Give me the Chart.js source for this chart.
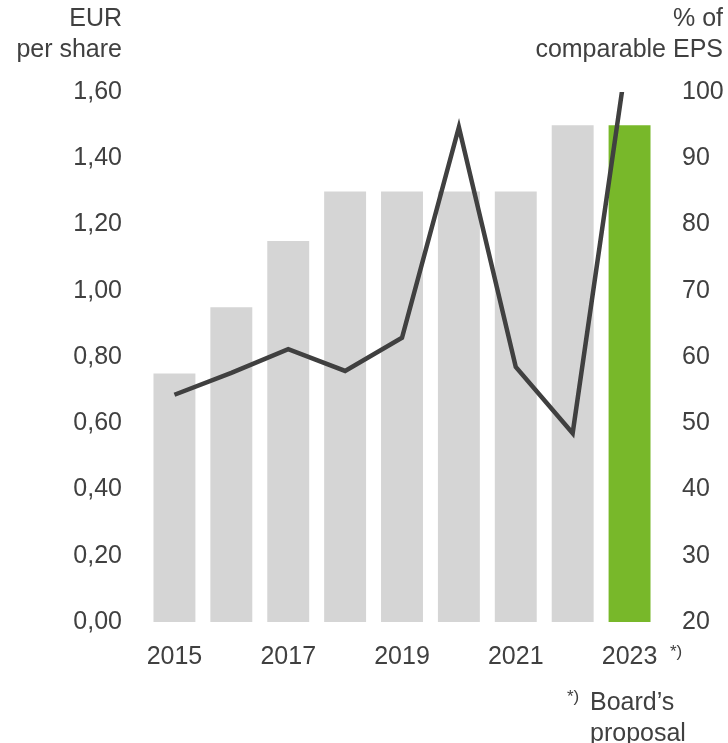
<!DOCTYPE html>
<html>
<head>
<meta charset="utf-8">
<script src="https://cdn.jsdelivr.net/npm/chart.js@4/dist/chart.umd.min.js"></script>
<style>
  body { margin: 0; background: #fff; }
  #wrap { position: relative; width: 728px; height: 743px; overflow: hidden;
          font-family: "Liberation Sans", Arial, sans-serif; color: #404040; }
  canvas { position: absolute; left: 0; top: 0; }
  .txt { position: absolute; font-size: 25px; line-height: 31px; white-space: nowrap; }
  .sup { position: absolute; font-size: 17px; line-height: 17px; }
</style>
</head>
<body>
<div id="wrap">
  <canvas id="chart" width="728" height="743"></canvas>
  <div class="txt" style="right:606px; top:2px; text-align:right;">EUR<br>per share</div>
  <div class="txt" style="right:5px; top:2px; text-align:right;">% of<br>comparable EPS</div>
  <div class="sup" style="left:670px; top:643px;">*)</div>
  <div class="sup" style="left:567px; top:688px;">*)</div>
  <div class="txt" style="left:590px; top:686px;">Board’s<br>proposal</div>
</div>

<script>
/* ===============================
   Data
================================ */
const years = ["2015", "2016", "2017", "2018", "2019", "2020", "2021", "2022", "2023"];
const dividend = [0.75, 0.95, 1.15, 1.30, 1.30, 1.30, 1.30, 1.50, 1.50];   // EUR per share
const payout = [54.3, 57.6, 61.2, 57.9, 62.9, 94.7, 58.5, 48.5, 108];       // % of comparable EPS
const leftTicks = [0, 0.2, 0.4, 0.6, 0.8, 1.0, 1.2, 1.4, 1.6];
const rightTicks = [20, 30, 40, 50, 60, 70, 80, 90, 100];

/* ===============================
   Chart
================================ */
const grey = "#d5d5d5";
const green = "#78b82a";
const ink = "#404040";
const font = { family: "'Liberation Sans', Arial, sans-serif", size: 25 };

new Chart(document.getElementById("chart"), {
  type: "bar",
  data: {
    labels: years,
    datasets: [
      {
        type: "line",
        data: payout,
        yAxisID: "y1",
        borderColor: ink,
        borderWidth: 4.5,
        pointRadius: 0,
        tension: 0,
        order: 0
      },
      {
        type: "bar",
        data: dividend,
        yAxisID: "y",
        backgroundColor: years.map((y, i) => i === years.length - 1 ? green : grey),
        barPercentage: 0.737,
        categoryPercentage: 1,
        order: 1
      }
    ]
  },
  options: {
    responsive: false,
    animation: false,
    layout: { padding: { top: 92, bottom: 0, left: 0, right: 0 } },
    plugins: { legend: { display: false }, tooltip: { enabled: false } },
    scales: {
      x: {
        grid: { display: false, drawTicks: false },
        border: { display: false },
        ticks: {
          autoSkip: false,
          maxRotation: 0,
          padding: 20,
          color: ink,
          font: font,
          callback: (v, i) => i % 2 === 0 ? years[i] : ""
        },
        afterFit: s => { s.height = 121; }
      },
      y: {
        position: "left",
        min: 0,
        max: 1.6,
        grid: { display: false, drawTicks: false },
        border: { display: false },
        afterBuildTicks: s => { s.ticks = leftTicks.map(v => ({ value: v })); },
        ticks: {
          padding: 24,
          color: ink,
          font: font,
          callback: v => v.toFixed(2).replace(".", ",")
        },
        afterFit: s => { s.width = 146; }
      },
      y1: {
        position: "right",
        min: 20,
        max: 100,
        grid: { display: false, drawTicks: false },
        border: { display: false },
        afterBuildTicks: s => { s.ticks = rightTicks.map(v => ({ value: v })); },
        ticks: {
          padding: 24,
          color: ink,
          font: font
        },
        afterFit: s => { s.width = 70; }
      }
    }
  }
});
</script>
</body>
</html>
